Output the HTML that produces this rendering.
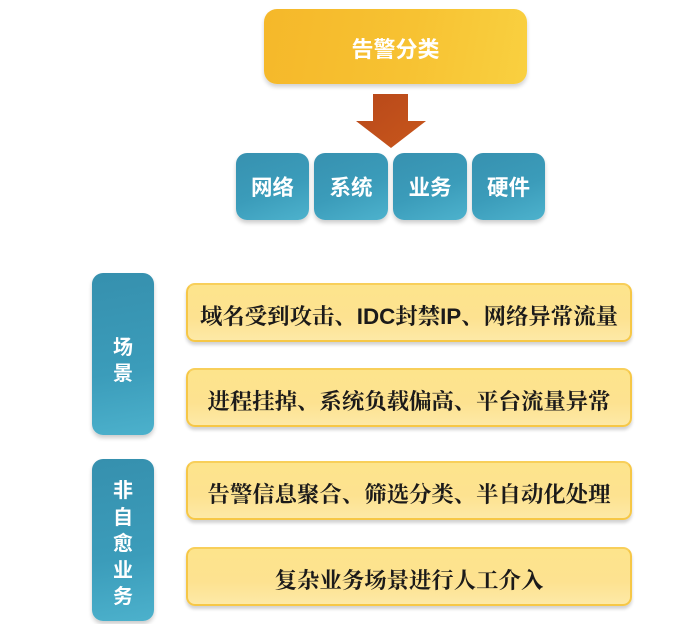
<!DOCTYPE html>
<html><head><meta charset="utf-8">
<style>
html,body{margin:0;padding:0;background:#fff;}
body{width:692px;height:624px;position:relative;overflow:hidden;}
.abs{position:absolute;box-sizing:border-box;display:flex;align-items:center;justify-content:center;}
.top{left:264px;top:9px;width:263px;height:75px;border-radius:13px;
 background:linear-gradient(100deg,#f5b82a 0%,#f7c232 55%,#f9d040 100%);
 box-shadow:0 3px 4px rgba(0,0,0,0.18);
 color:#fff;font:bold 22px "Liberation Sans","Noto Sans CJK SC",sans-serif;padding-top:2px;}
.blue{top:153px;height:67px;border-radius:11px;
 background:linear-gradient(160deg,#3791b0 0%,#3b9cba 55%,#4db2cd 100%);
 box-shadow:0 3px 4px rgba(0,0,0,0.2);
 color:#fff;font:bold 21.5px "Liberation Sans","Noto Sans CJK SC",sans-serif;}
.side{left:92px;width:62px;border-radius:11px;
 background:linear-gradient(170deg,#3690ae 0%,#3b9cba 60%,#4cb1cc 100%);
 box-shadow:0 3px 4px rgba(0,0,0,0.2);
 color:#fff;font:bold 20px "Liberation Sans","Noto Sans CJK SC",sans-serif;flex-direction:column;}
.yel{left:186px;width:446px;height:59px;border-radius:9px;
 background:linear-gradient(180deg,#fde48c 0%,#fde290 60%,#fde9a6 100%);
 border:2px solid #f6c746;border-top-color:#f8cf5a;
 box-shadow:0 3px 3px rgba(0,0,0,0.18);
 color:#1b1a1a;font:bold 22.4px "Liberation Sans","Noto Serif CJK SC",serif;padding-top:4px;}
</style></head><body>
<div class="abs top">告警分类</div>

<svg style="position:absolute;left:0;top:0" width="692" height="624">
 <defs>
  <linearGradient id="ag" x1="0" y1="0" x2="1" y2="1">
   <stop offset="0" stop-color="#b8481a"/>
   <stop offset="1" stop-color="#c8571c"/>
  </linearGradient>
 </defs>
 <polygon points="373,94 408,94 408,121 426,121 391,148 356,121 373,121" fill="url(#ag)"/>
</svg>

<div class="abs blue" style="left:236px;width:73px;">网络</div>
<div class="abs blue" style="left:314px;width:74px;">系统</div>
<div class="abs blue" style="left:393px;width:74px;">业务</div>
<div class="abs blue" style="left:472px;width:73px;">硬件</div>

<div class="abs side" style="top:273px;height:162px;line-height:26px;padding-top:13px;"><span>场</span><span>景</span></div>
<div class="abs side" style="top:459px;height:162px;line-height:26.5px;padding-top:9px;"><span>非</span><span>自</span><span>愈</span><span>业</span><span>务</span></div>

<div class="abs yel" style="top:283px;">域名受到攻击、IDC封禁IP、网络异常流量</div>
<div class="abs yel" style="top:368px;">进程挂掉、系统负载偏高、平台流量异常</div>
<div class="abs yel" style="top:461px;">告警信息聚合、筛选分类、半自动化处理</div>
<div class="abs yel" style="top:547px;">复杂业务场景进行人工介入</div>
</body></html>
